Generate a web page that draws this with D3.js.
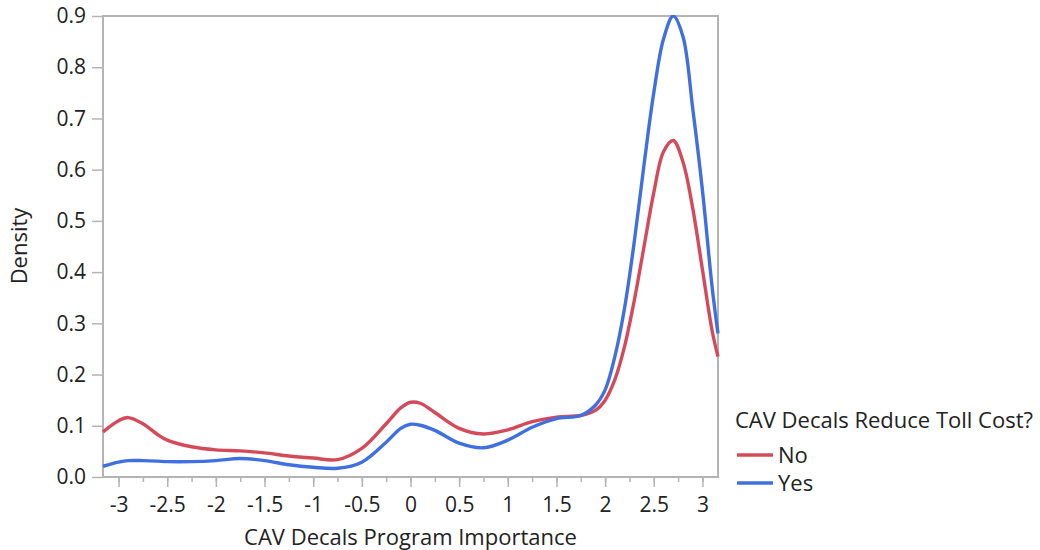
<!DOCTYPE html>
<html>
<head>
<meta charset="utf-8">
<script src="https://cdn.jsdelivr.net/npm/d3@7"></script>
<style>
  body { margin: 0; background: #fff; }
  text { font-family: "Open Sans", "Noto Sans", sans-serif; fill: #222; }
</style>
</head>
<body>
<div class="chart"></div>
<script>
'use strict';

// density curves
const xs = [-3.16, -3.0, -2.9, -2.75, -2.6, -2.5, -2.25, -2.0, -1.75, -1.5, -1.25, -1.0, -0.75, -0.5, -0.25,
            -0.1, 0.0, 0.1, 0.25, 0.5, 0.75, 1.0, 1.25, 1.5, 1.75, 1.9, 2.0, 2.1, 2.2, 2.3, 2.4, 2.5, 2.6, 2.7,
            2.8, 2.9, 3.0, 3.1, 3.16];
const noVals = [0.088, 0.110, 0.116, 0.104, 0.083, 0.072, 0.059, 0.053, 0.051, 0.047, 0.041, 0.037, 0.034, 0.056, 0.104,
                0.135, 0.146, 0.144, 0.126, 0.095, 0.084, 0.092, 0.108, 0.117, 0.120, 0.130, 0.150, 0.190, 0.255, 0.345, 0.450,
                0.555, 0.635, 0.657, 0.615, 0.525, 0.405, 0.285, 0.235];
const yesVals = [0.021, 0.029, 0.032, 0.032, 0.031, 0.030, 0.030, 0.032, 0.036, 0.032, 0.024, 0.019, 0.017, 0.029, 0.068,
                 0.095, 0.103, 0.101, 0.091, 0.066, 0.057, 0.072, 0.097, 0.114, 0.120, 0.140, 0.170, 0.235, 0.330, 0.460, 0.610,
                 0.750, 0.855, 0.900, 0.860, 0.720, 0.560, 0.370, 0.280];
const seriesNames = ["No", "Yes"];
const seriesColors = ["#d44a5a", "#4070e0"];
const xTicks = [-3, -2.5, -2, -1.5, -1, -0.5, 0, 0.5, 1, 1.5, 2, 2.5, 3];
const yTicks = [0, 0.1, 0.2, 0.3, 0.4, 0.5, 0.6, 0.7, 0.8, 0.9];

const margin = {top: 16, left: 103, right: 322, bottom: 73};
const W = 1040, H = 550;
const width = W - margin.left - margin.right,
      height = H - margin.top - margin.bottom;
const tickFont = '21px', titleFont = '22px';

const svg = d3.select('.chart').append('svg').attr('width', W).attr('height', H);
const g = svg.append('g').attr('transform', `translate(${margin.left},${margin.top})`);

const x = d3.scaleLinear().domain([-3.16, 3.16]).range([0, width]);
const y = d3.scaleLinear().domain([0, 0.9]).range([height, 0]);

const grey = "#b4b4b4";
const fmt = d => String(d).replace("\u2212", "-");

// minor x ticks
g.append('g').attr('transform', `translate(0,${height})`)
  .call(d3.axisBottom(x).tickValues(d3.range(-3, 3.01, 0.25)).tickSize(5).tickFormat(''))
  .call(a => a.select('.domain').remove())
  .call(a => a.selectAll('line').attr('stroke', grey).attr('stroke-width', 1.5));

// major x ticks
g.append('g').attr('transform', `translate(0,${height})`)
  .call(d3.axisBottom(x).tickValues(xTicks).tickSize(10).tickPadding(10).tickFormat(fmt))
  .call(a => a.select('.domain').remove())
  .call(a => a.selectAll('line').attr('stroke', grey).attr('stroke-width', 1.5))
  .call(a => a.selectAll('text').style('font-size', tickFont).attr('fill', '#222'));

g.append('g')
  .call(d3.axisLeft(y).tickValues(yTicks).tickSize(11).tickPadding(6).tickFormat(d3.format('.1f')))
  .call(a => a.select('.domain').remove())
  .call(a => a.selectAll('line').attr('stroke', grey).attr('stroke-width', 1.5))
  .call(a => a.selectAll('text').style('font-size', tickFont).attr('fill', '#222'));

// frame
g.append('rect').attr('width', width).attr('height', height)
  .attr('fill', 'none').attr('stroke', grey).attr('stroke-width', 2);

g.append('clipPath').attr('id', 'clip')
  .append('rect').attr('x', -2).attr('y', -1).attr('width', width + 4).attr('height', height + 2);

const line = d3.line()
  .x((d, i) => x(xs[i]))
  .y(d => y(d))
  .curve(d3.curveCatmullRom.alpha(0.5));

[noVals, yesVals].forEach((vals, k) => {
  g.append('path').datum(vals)
    .attr('clip-path', 'url(#clip)')
    .attr('d', line)
    .attr('fill', 'none')
    .attr('stroke', seriesColors[k])
    .attr('stroke-width', 3.4);
});

// axis labels
svg.append('text')
  .attr('x', margin.left + width / 2).attr('y', 545)
  .style('text-anchor', 'middle').style('font-size', titleFont)
  .text('CAV Decals Program Importance');

svg.append('text')
  .attr('transform', 'rotate(-90)')
  .attr('x', -246).attr('y', 27)
  .style('text-anchor', 'middle').style('font-size', titleFont)
  .text('Density');

// legend
const lg = svg.append('g').attr('transform', 'translate(735,428)');
lg.append('text').style('font-size', titleFont).text('CAV Decals Reduce Toll Cost?');
seriesNames.forEach((name, i) => {
  const row = lg.append('g').attr('transform', `translate(0,${27 + i * 28})`);
  row.append('line').attr('x1', 2).attr('x2', 38).attr('y1', 0).attr('y2', 0)
    .attr('stroke', seriesColors[i]).attr('stroke-width', 3.5);
  row.append('text').attr('x', 43).attr('y', 8).style('font-size', titleFont).text(name);
});
</script>
</body>
</html>
